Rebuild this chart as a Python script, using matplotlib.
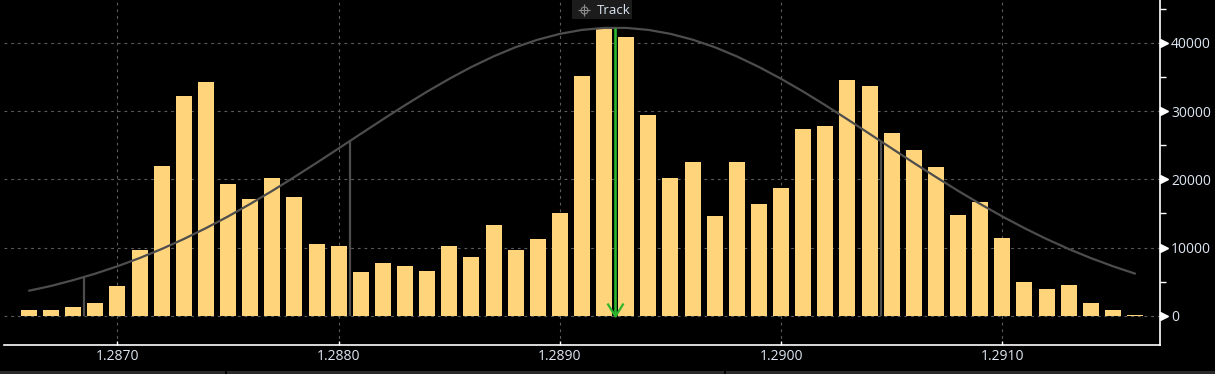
import matplotlib
matplotlib.use("Agg")
import matplotlib.pyplot as plt
import numpy as np
from matplotlib.path import Path
from matplotlib.patches import Rectangle
from matplotlib.ticker import MultipleLocator, FormatStrFormatter
import matplotlib.transforms as mtransforms

# ---------------- data ----------------
price_start = 1.2866
price_step = 0.0001
volumes = [900, 900, 1300, 1900, 4400, 9700, 21900, 32200, 34200, 19300,
           17100, 20200, 17400, 10500, 10200, 6400, 7800, 7300, 6600, 10200,
           8600, 13300, 9700, 11300, 15100, 35100, 42100, 40800, 29400, 20200,
           22500, 14600, 22500, 16400, 18700, 27300, 27800, 34500, 33600, 26800,
           24300, 21800, 14800, 16700, 11400, 5000, 4000, 4500, 1900, 900, 200]
prices = [round(price_start + i * price_step, 4) for i in range(len(volumes))]

# fitted distribution curve, read at each bar centre
curve = [3700, 4400, 5250, 6200, 7280, 8480, 9810, 11270, 12860, 14570,
         16400, 18320, 20340, 22410, 24530, 26660, 28780, 30850, 32840, 34710,
         36440, 37990, 39340, 40440, 41290, 41870, 42160, 42160, 41870, 41290,
         40440, 39340, 37990, 36440, 34710, 32840, 30850, 28780, 26660, 24530,
         22410, 20340, 18320, 16400, 14570, 12860, 11270, 9810, 8480, 7280, 6200]

sigma_prices = [1.28685, 1.28805, 1.29045]
sigma_heights = [5700, 25600, 25600]

track_price = 1.28925
track_top = 42200

x_ticks = [1.2870, 1.2880, 1.2890, 1.2900, 1.2910]
y_ticks = [0, 10000, 20000, 30000, 40000]

# ---------------- style ----------------
W, H, DPI = 1215, 374, 100
bg = "#000000"
bar_color = "#FFD47A"
curve_color = "#4d4d4d"
grid_color = "#5c5c5c"
text_color = "#dde6f2"
green = "#2db52d"

plt.rcParams['font.family'] = ['Open Sans', 'DejaVu Sans']

fig = plt.figure(figsize=(W / DPI, H / DPI), dpi=DPI, facecolor=bg)
ax = fig.add_axes([4 / W, 29 / H, (1160 - 4) / W, (H - 29) / H], facecolor=bg)

ax.set_xlim(1.286487, 1.291713)
ax.set_ylim(-4244, 46244)

# grid
ax.set_axisbelow(True)
for yt in y_ticks:
    ax.axhline(yt, color=grid_color, lw=0.8, ls=(0, (2.5, 3.5)), zorder=0)
for xt in x_ticks:
    ax.axvline(xt, color=grid_color, lw=0.8, ls=(0, (2.5, 3.5)), zorder=0)

# bars
ax.bar(prices, volumes, width=0.0000723, color=bar_color, zorder=2)

# distribution curve + sigma lines
ax.plot(prices, curve, color=curve_color, lw=1.6, zorder=3, solid_capstyle='round')
ax.vlines(sigma_prices, 0, sigma_heights, color=curve_color, lw=1.6, zorder=3)

# track line with arrow head
ax.vlines([track_price], 0, [track_top], color=green, lw=1.9, zorder=4)
vmark = Path([(-8, 13), (0, 0), (8, 13)], [Path.MOVETO, Path.LINETO, Path.LINETO])
ax.plot([track_price], [0], marker=vmark, markersize=18.7, color=green,
        markerfacecolor='none', markeredgewidth=1.6, zorder=5, clip_on=False)

# spines
for s in ['left', 'top']:
    ax.spines[s].set_visible(False)
for s in ['bottom', 'right']:
    ax.spines[s].set_color('white')
    ax.spines[s].set_linewidth(1.2)

# x axis
ax.set_xticks(x_ticks)
ax.xaxis.set_major_formatter(FormatStrFormatter('%.4f'))
ax.tick_params(axis='x', direction='in', length=3, width=1, color='white',
               labelcolor=text_color, labelsize=10, pad=3)

# y axis on right
ax.yaxis.tick_right()
ax.set_yticks(y_ticks)
ax.yaxis.set_minor_locator(MultipleLocator(5000))
ax.tick_params(axis='y', which='major', length=0, labelcolor=text_color,
               labelsize=10, pad=8)
ax.tick_params(axis='y', which='minor', length=4.5, width=1, color='white',
               direction='out')
trans = mtransforms.blended_transform_factory(ax.transAxes, ax.transData)
ax.plot([1.0035] * len(y_ticks), y_ticks, ls='none', marker='>', markersize=5.5,
        color='white', transform=trans, clip_on=False, zorder=6)

# Track label box (figure pixel coords)
fig.patches.append(Rectangle((572 / W, 1 - 19 / H), 60 / W, 19 / H,
                             transform=fig.transFigure, facecolor='#1c1c1c',
                             edgecolor='none', zorder=10))
fig.text(597 / W, 1 - 10 / H, "Track", color=text_color, fontsize=9.5,
         va='center', ha='left', zorder=11)
cx, cy = 583.5 / W, 1 - 9.7 / H
fig.lines.append(plt.Line2D([cx], [cy], marker='o', markersize=5, markerfacecolor='none',
                            markeredgecolor='#8a8a8a', markeredgewidth=0.8,
                            transform=fig.transFigure, zorder=11))
fig.lines.append(plt.Line2D([cx], [cy], marker='+', markersize=9,
                            markeredgecolor='#8a8a8a', markeredgewidth=0.8,
                            transform=fig.transFigure, zorder=11))

# bottom scroll strip
for x0, x1 in [(0, 225), (227, 724), (726, 1215)]:
    fig.patches.append(Rectangle((x0 / W, 0), (x1 - x0) / W, 3.5 / H,
                                 transform=fig.transFigure, facecolor='#2a2a2a',
                                 edgecolor='none'))

fig.savefig("out.png", dpi=DPI, facecolor=bg)
